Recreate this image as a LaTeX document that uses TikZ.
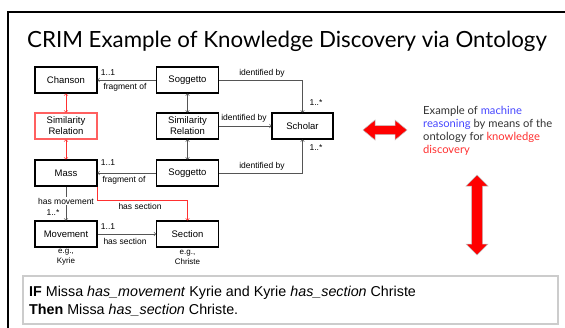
\documentclass[tikz,border=0pt]{standalone}
\usepackage{fontspec}
\setmainfont{Liberation Sans}
\newfontfamily\slidefont{Lato}

\definecolor{linegray}{HTML}{555555}
\definecolor{relred}{HTML}{FF3030}
\definecolor{boxred}{HTML}{FF6060}
\definecolor{reasonblue}{HTML}{4646FF}
\definecolor{rulegray}{HTML}{CCCCCC}
\definecolor{notegray}{HTML}{333333}

\begin{document}
\begin{tikzpicture}[x=1pt,y=-1pt,
  entity/.style={draw, rectangle, line width=1.1pt, minimum width=62pt, minimum height=26pt, font=\fontsize{9.5}{11}\selectfont},
  lbl/.style={inner sep=1pt, font=\fontsize{8.5}{10}\selectfont},
  conn/.style={draw=linegray, semithick, ->},
  redconn/.style={draw=relred, semithick, ->},
  bigarrow/.style={fill=red, draw=black!25, line width=0.5pt}]
\useasboundingbox (0,0) rectangle (565,327);
\draw[line width=2pt] (8,330) -- (8,12) -- (568,12);
\node[anchor=west, inner sep=0pt, font=\slidefont\fontsize{22.3}{26}\selectfont] (title) at (27,41) {CRIM Example of Knowledge Discovery via Ontology};

% ontology boxes
\node[entity] (chanson) at (66,80) {Chanson};
\node[entity] (sogtop) at (187.5,80) {Soggetto};
\node[entity, draw=boxred, text width=52pt, align=center] (simred) at (66,126) {Similarity\\Relation};
\node[entity, text width=52pt, align=center] (simmid) at (187.5,126) {Similarity\\Relation};
\node[entity, minimum width=61pt] (scholar) at (302.5,126) {Scholar};
\node[entity] (mass) at (66,173) {Mass};
\node[entity] (sogbot) at (187.5,173) {Soggetto};
\node[entity] (movement) at (66,234) {Movement};
\node[entity] (section) at (187.5,234) {Section};

% connectors
\path[conn] (sogtop) -- (chanson);
\path[conn] (sogbot) -- (mass);
\path[conn,<->] (sogtop) -- (simmid);
\path[conn,<->] (simmid) -- (sogbot);
\path[redconn,<->] (chanson) -- (simred);
\path[redconn,<->] (simred) -- (mass);
\path[conn] (sogtop) -| (scholar);
\path[conn] (simmid) -- (scholar);
\path[conn] (sogbot) -| (scholar);
\path[conn] (mass) -- (movement);
\path[conn] (movement) -- (section);
\path[redconn] (mass.south east) -- ++(0,14) -| (section);

% labels
\node[lbl] (m1) at (108,73) {1..1};
\node[lbl] (f1) at (125,87) {fragment of};
\node[lbl] (i1) at (262,73) {identified by};
\node[lbl] (m2) at (316,103) {1..*};
\node[lbl] (i2) at (244,118) {identified by};
\node[lbl] (m3) at (316,148) {1..*};
\node[lbl] (i3) at (262,166) {identified by};
\node[lbl] (m4) at (108,163) {1..1};
\node[lbl] (f2) at (124,180) {fragment of};
\node[lbl, fill=white] (hm) at (66,201) {has movement};
\node[lbl] (m5) at (53,213) {1..*};
\node[lbl] (hs1) at (140,206) {has section};
\node[lbl] (m6) at (108,227) {1..1};
\node[lbl] (hs2) at (125,241) {has section};
\node[lbl, align=center, font=\fontsize{8}{10}\selectfont] (eg1) at (66,257) {e.g.,\\Kyrie};
\node[lbl, align=center, font=\fontsize{8}{10}\selectfont] (eg2) at (187.5,257) {e.g.,\\Christe};

% right side
\filldraw[bigarrow] (363,130) -- (375,120) -- (375,125.5) -- (395,125.5) -- (395,120) -- (407,130)
  -- (395,140) -- (395,134.5) -- (375,134.5) -- (375,140) -- cycle;
\filldraw[bigarrow] (477,175) -- (488,186) -- (482.5,186) -- (482.5,244) -- (488,244) -- (477,255)
  -- (466,244) -- (471.5,244) -- (471.5,186) -- (466,186) -- cycle;
\node[anchor=north west, inner sep=0pt, align=left, text=notegray, font=\slidefont\fontsize{11.2}{13}\selectfont] (note) at (423,106) {Example of \textcolor{reasonblue}{machine}\\\textcolor{reasonblue}{reasoning} by means of the\\ontology for \textcolor{relred}{knowledge}\\\textcolor{relred}{discovery}};

% rule
\draw[draw=rulegray, line width=1.2pt] (23,276) rectangle (558,324);
\node[anchor=base west, inner sep=0pt, font=\fontsize{14.3}{16}\selectfont] (rule1) at (29,296) {\textbf{IF} Missa \textit{has\_movement} Kyrie and Kyrie \textit{has\_section} Christe};
\node[anchor=base west, inner sep=0pt, font=\fontsize{14.3}{16}\selectfont] (rule2) at (29,314) {\textbf{Then} Missa \textit{has\_section} Christe.};
\end{tikzpicture}
\end{document}
